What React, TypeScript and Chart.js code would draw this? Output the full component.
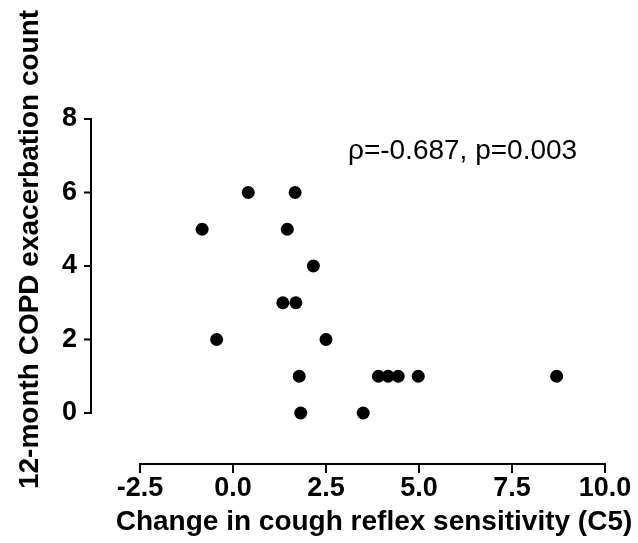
import React, { useEffect, useRef } from "react";
import { Chart, registerables } from "chart.js";

Chart.register(...registerables);

// Data
const changeC5 = [0.41, 1.67, -0.83, 1.46, 2.16, 1.34, 1.69, -0.44, 2.5, 1.78, 3.91, 4.17, 4.44, 4.98, 8.7, 1.82, 3.5];
const exacerbations = [6, 6, 5, 5, 4, 3, 3, 2, 2, 1, 1, 1, 1, 1, 1, 0, 0];

const xTickValues = [-2.5, 0, 2.5, 5, 7.5, 10];
const xTickLabels = ["-2.5", "0.0", "2.5", "5.0", "7.5", "10.0"];
const yTickValues = [0, 2, 4, 6, 8];
const yTickLabels = ["0", "2", "4", "6", "8"];

const xTitle = "Change in cough reflex sensitivity (C5)";
const yTitle = "12-month COPD exacerbation count";
const statText = "\u03C1=-0.687, p=0.003";
const statAnchor = { x: 3.09, y: 7.13 };

const FONT = "'Liberation Sans', Arial, Helvetica, sans-serif";

const detachedAxes = {
  id: "detachedAxes",
  afterDraw(chart: any) {
    const { ctx, chartArea } = chart;
    const xs = chart.scales.x;
    const ys = chart.scales.y;
    ctx.save();
    ctx.strokeStyle = "#000";
    ctx.lineWidth = 2;
    ctx.lineJoin = "miter";
    ctx.lineCap = "butt";

    // Y axis (detached to the left)
    const ax = chartArea.left - 49;
    const yTop = ys.getPixelForValue(yTickValues[yTickValues.length - 1]);
    const yBot = ys.getPixelForValue(yTickValues[0]);
    ctx.beginPath();
    ctx.moveTo(ax - 7, yTop);
    ctx.lineTo(ax, yTop);
    ctx.lineTo(ax, yBot);
    ctx.lineTo(ax - 7, yBot);
    ctx.stroke();
    for (let i = 1; i < yTickValues.length - 1; i++) {
      const py = ys.getPixelForValue(yTickValues[i]);
      ctx.beginPath();
      ctx.moveTo(ax, py);
      ctx.lineTo(ax - 7, py);
      ctx.stroke();
    }

    // X axis (detached below)
    const ay = chartArea.bottom + 51;
    const xL = xs.getPixelForValue(xTickValues[0]);
    const xR = xs.getPixelForValue(xTickValues[xTickValues.length - 1]);
    ctx.beginPath();
    ctx.moveTo(xL, ay + 9);
    ctx.lineTo(xL, ay);
    ctx.lineTo(xR, ay);
    ctx.lineTo(xR, ay + 9);
    ctx.stroke();
    for (let i = 1; i < xTickValues.length - 1; i++) {
      const px = xs.getPixelForValue(xTickValues[i]);
      ctx.beginPath();
      ctx.moveTo(px, ay);
      ctx.lineTo(px, ay + 9);
      ctx.stroke();
    }

    ctx.fillStyle = "#000";
    ctx.textAlign = "center";
    ctx.textBaseline = "middle";

    // Axis titles
    ctx.font = `bold 28px ${FONT}`;
    ctx.fillText(xTitle, (chartArea.left + chartArea.right) / 2 + 1.5, chartArea.bottom + 109);
    ctx.save();
    ctx.translate(chartArea.left - 110, (chartArea.top + chartArea.bottom) / 2 - 16.5);
    ctx.rotate(-Math.PI / 2);
    ctx.fillText(yTitle, 0, 0);
    ctx.restore();

    // Statistic annotation
    ctx.font = `28px ${FONT}`;
    ctx.textAlign = "left";
    ctx.fillText(statText, xs.getPixelForValue(statAnchor.x), ys.getPixelForValue(statAnchor.y));
    ctx.restore();
  },
};

export default function App() {
  const canvasRef = useRef<HTMLCanvasElement | null>(null);

  useEffect(() => {
    if (!canvasRef.current) return;
    const chart = new Chart(canvasRef.current, {
      type: "scatter",
      data: {
        datasets: [
          {
            data: changeC5.map((v, i) => ({ x: v, y: exacerbations[i] })),
            backgroundColor: "#000",
            borderColor: "#000",
            borderWidth: 0,
            pointRadius: 6.5,
            pointHoverRadius: 6.5,
            clip: false,
          },
        ],
      },
      options: {
        responsive: false,
        animation: false,
        devicePixelRatio: 1,
        events: [],
        layout: { padding: { left: 0, top: 119, right: 33, bottom: 0 } },
        plugins: { legend: { display: false }, tooltip: { enabled: false } },
        scales: {
          x: {
            type: "linear",
            min: xTickValues[0],
            max: xTickValues[xTickValues.length - 1],
            grid: { display: false, drawTicks: false },
            border: { display: false },
            afterBuildTicks: (scale: any) => {
              scale.ticks = xTickValues.map((v) => ({ value: v }));
            },
            afterFit: (scale: any) => {
              scale.height = 130;
              scale.paddingLeft = 0;
              scale.paddingRight = 0;
            },
            ticks: {
              padding: 59,
              color: "#000",
              maxRotation: 0,
              minRotation: 0,
              autoSkip: false,
              font: { family: FONT, size: 27, weight: "bold" },
              callback: (_v: any, i: number) => xTickLabels[i],
            },
          },
          y: {
            type: "linear",
            min: yTickValues[0],
            max: yTickValues[yTickValues.length - 1],
            grid: { display: false, drawTicks: false },
            border: { display: false },
            afterBuildTicks: (scale: any) => {
              scale.ticks = yTickValues.map((v) => ({ value: v }));
            },
            afterFit: (scale: any) => {
              scale.width = 140;
              scale.paddingTop = 0;
              scale.paddingBottom = 0;
            },
            ticks: {
              padding: 63,
              color: "#000",
              autoSkip: false,
              font: { family: FONT, size: 27, weight: "bold" },
              callback: (_v: any, i: number) => yTickLabels[i],
            },
          },
        },
      },
      plugins: [detachedAxes],
    });
    return () => chart.destroy();
  }, []);

  return (
    <div style={{ position: "absolute", left: 0, top: 0, width: 638, height: 543, background: "#fff" }}>
      <canvas ref={canvasRef} width={638} height={543} style={{ width: 638, height: 543, display: "block" }} />
    </div>
  );
}
